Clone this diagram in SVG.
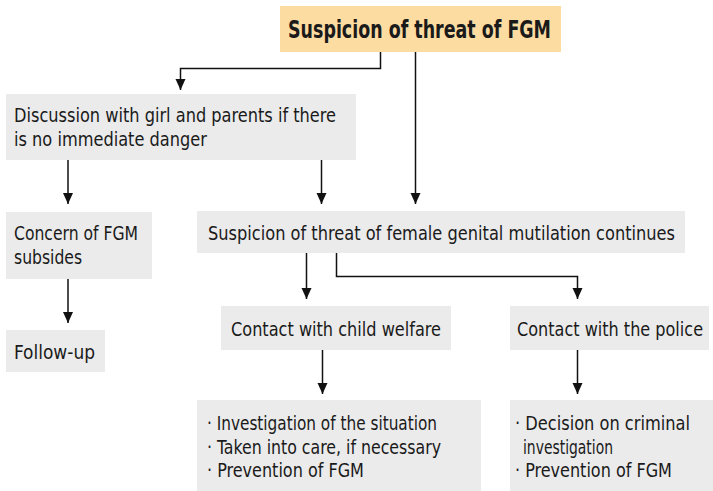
<svg xmlns="http://www.w3.org/2000/svg" width="713" height="491" viewBox="0 0 713 491">
  <defs>
    <marker id="arrow" markerUnits="userSpaceOnUse" markerWidth="12" markerHeight="12" viewBox="0 0 12 12" refX="11" refY="6" orient="auto">
      <path d="M0,1 L11,6 L0,11 Z" fill="#111"/>
    </marker>
    <style>
      .box { fill: #ebebeb; }
      .head { fill: #fddca2; }
      .t { font-family: "Liberation Sans Narrow", "DejaVu Sans Condensed", "Roboto Condensed", "Liberation Sans", sans-serif; font-size: 20px; fill: #1a1a1a; }
      .b { font-weight: bold; font-size: 24px; }
      .link { fill: none; stroke: #111; stroke-width: 1.5; marker-end: url(#arrow); }
    </style>
  </defs>

  <rect width="713" height="491" fill="#ffffff"/>

  <g id="connectors">
    <path class="link" d="M380.5,52 V68.5 H180.5 V90"/>
    <path class="link" d="M415.5,52 V204"/>
    <path class="link" d="M68,160 V204"/>
    <path class="link" d="M321.5,160 V204"/>
    <path class="link" d="M68,279 V323"/>
    <path class="link" d="M306.5,253 V299"/>
    <path class="link" d="M336.5,253 V276.5 H577.5 V299"/>
    <path class="link" d="M322.5,350 V394"/>
    <path class="link" d="M577.5,350 V394"/>
  </g>

  <!-- body text is narrowed with scale(0.9,1); textLength is given in the unscaled units -->
  <g id="suspicion">
    <rect class="head" x="280" y="6" width="281" height="46"/>
    <text class="t b" x="288" y="37.5" textLength="263" lengthAdjust="spacingAndGlyphs">Suspicion of threat of FGM</text>
  </g>

  <g id="discussion">
    <rect class="box" x="6" y="94" width="350" height="66"/>
    <text class="t" transform="translate(14,121.5) scale(0.9,1)" textLength="357.8" lengthAdjust="spacingAndGlyphs">Discussion with girl and parents if there</text>
    <text class="t" transform="translate(14,145.5) scale(0.9,1)" textLength="214.4" lengthAdjust="spacingAndGlyphs">is no immediate danger</text>
  </g>

  <g id="concern-subsides">
    <rect class="box" x="6" y="212" width="146" height="67"/>
    <text class="t" transform="translate(14,240) scale(0.9,1)" textLength="137.8" lengthAdjust="spacingAndGlyphs">Concern of FGM</text>
    <text class="t" transform="translate(14,264) scale(0.9,1)" textLength="75.6" lengthAdjust="spacingAndGlyphs">subsides</text>
  </g>

  <g id="follow-up">
    <rect class="box" x="6" y="330" width="99" height="42"/>
    <text class="t" transform="translate(14,358.5) scale(0.9,1)" textLength="90" lengthAdjust="spacingAndGlyphs">Follow-up</text>
  </g>

  <g id="suspicion-continues">
    <rect class="box" x="197" y="211" width="488" height="42"/>
    <text class="t" transform="translate(208,239.5) scale(0.9,1)" textLength="518.9" lengthAdjust="spacingAndGlyphs">Suspicion of threat of female genital mutilation continues</text>
  </g>

  <g id="child-welfare">
    <rect class="box" x="221" y="306" width="230" height="44"/>
    <text class="t" transform="translate(231,335.5) scale(0.9,1)" textLength="233.3" lengthAdjust="spacingAndGlyphs">Contact with child welfare</text>
  </g>

  <g id="police">
    <rect class="box" x="510" y="306" width="199" height="44"/>
    <text class="t" transform="translate(517,335.5) scale(0.9,1)" textLength="206.7" lengthAdjust="spacingAndGlyphs">Contact with the police</text>
  </g>

  <g id="welfare-actions">
    <rect class="box" x="197" y="400" width="284" height="91"/>
    <text class="t" transform="translate(207,430) scale(0.9,1)" textLength="255.6" lengthAdjust="spacingAndGlyphs">· Investigation of the situation</text>
    <text class="t" transform="translate(207,453.5) scale(0.9,1)" textLength="260" lengthAdjust="spacingAndGlyphs">· Taken into care, if necessary</text>
    <text class="t" transform="translate(207,477) scale(0.9,1)" textLength="174.4" lengthAdjust="spacingAndGlyphs">· Prevention of FGM</text>
  </g>

  <g id="police-actions">
    <rect class="box" x="510" y="400" width="203" height="91"/>
    <text class="t" transform="translate(515,430) scale(0.9,1)" textLength="194.4" lengthAdjust="spacingAndGlyphs">· Decision on criminal</text>
    <text class="t" transform="translate(523,453.5) scale(0.9,1)" textLength="100" lengthAdjust="spacingAndGlyphs">investigation</text>
    <text class="t" transform="translate(515,477) scale(0.9,1)" textLength="174.4" lengthAdjust="spacingAndGlyphs">· Prevention of FGM</text>
  </g>
</svg>
